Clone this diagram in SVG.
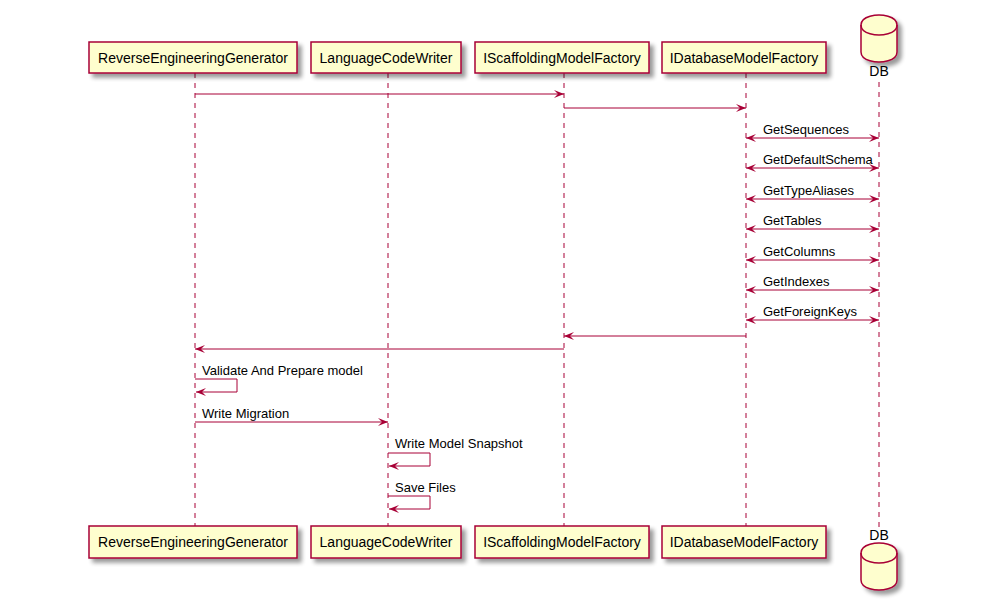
<svg xmlns="http://www.w3.org/2000/svg" width="989" height="610" viewBox="0 0 989 610">
<defs>
<filter id="sh" x="-20%" y="-20%" width="150%" height="160%">
<feGaussianBlur in="SourceAlpha" stdDeviation="2"/>
<feOffset dx="4" dy="4" result="b"/>
<feComponentTransfer><feFuncA type="linear" slope="0.4"/></feComponentTransfer>
<feMerge><feMergeNode/><feMergeNode in="SourceGraphic"/></feMerge>
</filter>
<marker id="ah" viewBox="0 0 10 8" refX="10" refY="4" markerWidth="10" markerHeight="8" markerUnits="userSpaceOnUse" orient="auto-start-reverse">
<polygon points="0,0 10,4 0,8 4,4" fill="#A80036"/>
</marker>
</defs>
<style>
.box{fill:#FEFECE;stroke:#A80036;stroke-width:1.5}
.life{stroke:#A80036;stroke-width:1;stroke-dasharray:5,5;fill:none}
.msg{stroke:#A80036;stroke-width:1;fill:none}
.pt{font-family:"Liberation Sans",Arial,sans-serif;font-size:14px;fill:#000}
.mt{font-family:"Liberation Sans",Arial,sans-serif;font-size:13px;fill:#000}
</style>
<rect width="989" height="610" fill="#fff"/>
<g id="lifelines">
<line class="life" x1="195" y1="73" x2="195" y2="526"/>
<line class="life" x1="388" y1="73" x2="388" y2="526"/>
<line class="life" x1="564" y1="73" x2="564" y2="526"/>
<line class="life" x1="746" y1="73" x2="746" y2="526"/>
<line class="life" x1="879" y1="82" x2="879" y2="530"/>
</g>
<g id="ReverseEngineeringGenerator">
<rect class="box" filter="url(#sh)" x="89" y="42" width="208" height="31"/>
<text class="pt" x="193" y="63" text-anchor="middle">ReverseEngineeringGenerator</text>
<rect class="box" filter="url(#sh)" x="89" y="526" width="208" height="32"/>
<text class="pt" x="193" y="547" text-anchor="middle">ReverseEngineeringGenerator</text>
</g>
<g id="LanguageCodeWriter">
<rect class="box" filter="url(#sh)" x="311" y="42" width="150" height="31"/>
<text class="pt" x="386" y="63" text-anchor="middle">LanguageCodeWriter</text>
<rect class="box" filter="url(#sh)" x="311" y="526" width="150" height="32"/>
<text class="pt" x="386" y="547" text-anchor="middle">LanguageCodeWriter</text>
</g>
<g id="IScaffoldingModelFactory">
<rect class="box" filter="url(#sh)" x="475" y="42" width="174" height="31"/>
<text class="pt" x="562" y="63" text-anchor="middle">IScaffoldingModelFactory</text>
<rect class="box" filter="url(#sh)" x="475" y="526" width="174" height="32"/>
<text class="pt" x="562" y="547" text-anchor="middle">IScaffoldingModelFactory</text>
</g>
<g id="IDatabaseModelFactory">
<rect class="box" filter="url(#sh)" x="662" y="42" width="164" height="31"/>
<text class="pt" x="744" y="63" text-anchor="middle">IDatabaseModelFactory</text>
<rect class="box" filter="url(#sh)" x="662" y="526" width="164" height="32"/>
<text class="pt" x="744" y="547" text-anchor="middle">IDatabaseModelFactory</text>
</g>
<g id="DB">
<path class="box" filter="url(#sh)" d="M861,25 C861,15 879,15 879,15 C879,15 897,15 897,25 L897,52 C897,62 879,62 879,62 C879,62 861,62 861,52 Z"/>
<path class="msg" style="stroke-width:1.5" d="M861,25 C861,35 879,35 879,35 C879,35 897,35 897,25"/>
<text class="pt" x="879" y="76" text-anchor="middle">DB</text>
<path class="box" filter="url(#sh)" d="M861,553 C861,543 879,543 879,543 C879,543 897,543 897,553 L897,580 C897,590 879,590 879,590 C879,590 861,590 861,580 Z"/>
<path class="msg" style="stroke-width:1.5" d="M861,553 C861,563 879,563 879,563 C879,563 897,563 897,553"/>
<text class="pt" x="879" y="540" text-anchor="middle">DB</text>
</g>
<g id="connectors">
<line class="msg" x1="195" y1="94" x2="564" y2="94" marker-end="url(#ah)"/>
<line class="msg" x1="564" y1="108" x2="746" y2="108" marker-end="url(#ah)"/>
<line class="msg" x1="746" y1="138" x2="879" y2="138" marker-start="url(#ah)" marker-end="url(#ah)"/>
<text class="mt" x="763" y="134">GetSequences</text>
<line class="msg" x1="746" y1="168" x2="879" y2="168" marker-start="url(#ah)" marker-end="url(#ah)"/>
<text class="mt" x="763" y="164">GetDefaultSchema</text>
<line class="msg" x1="746" y1="199" x2="879" y2="199" marker-start="url(#ah)" marker-end="url(#ah)"/>
<text class="mt" x="763" y="195">GetTypeAliases</text>
<line class="msg" x1="746" y1="229" x2="879" y2="229" marker-start="url(#ah)" marker-end="url(#ah)"/>
<text class="mt" x="763" y="225">GetTables</text>
<line class="msg" x1="746" y1="260" x2="879" y2="260" marker-start="url(#ah)" marker-end="url(#ah)"/>
<text class="mt" x="763" y="256">GetColumns</text>
<line class="msg" x1="746" y1="290" x2="879" y2="290" marker-start="url(#ah)" marker-end="url(#ah)"/>
<text class="mt" x="763" y="286">GetIndexes</text>
<line class="msg" x1="746" y1="320" x2="879" y2="320" marker-start="url(#ah)" marker-end="url(#ah)"/>
<text class="mt" x="763" y="316">GetForeignKeys</text>
<line class="msg" x1="746" y1="336" x2="564" y2="336" marker-end="url(#ah)"/>
<line class="msg" x1="564" y1="349" x2="195" y2="349" marker-end="url(#ah)"/>
<text class="mt" x="202" y="375">Validate And Prepare model</text>
<polyline class="msg" points="195,379 237,379 237,392 196,392" marker-end="url(#ah)"/>
<text class="mt" x="202" y="418">Write Migration</text>
<line class="msg" x1="195" y1="422" x2="388" y2="422" marker-end="url(#ah)"/>
<text class="mt" x="395" y="448">Write Model Snapshot</text>
<polyline class="msg" points="388,453 430,453 430,466 389,466" marker-end="url(#ah)"/>
<text class="mt" x="395" y="492">Save Files</text>
<polyline class="msg" points="388,496 430,496 430,509 389,509" marker-end="url(#ah)"/>
</g>
</svg>
